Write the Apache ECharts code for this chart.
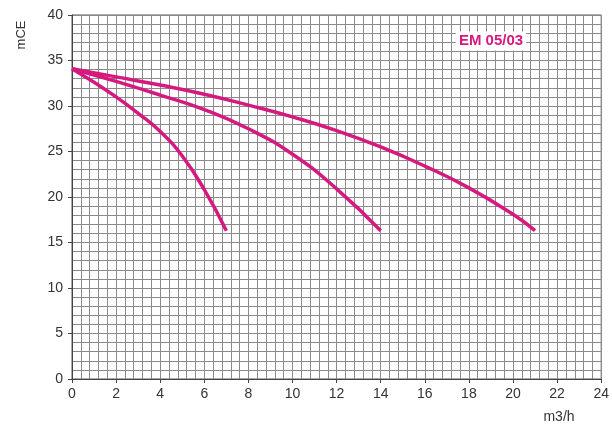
<!DOCTYPE html>
<html>
<head>
<meta charset="utf-8">
<script src="https://cdn.jsdelivr.net/npm/echarts@6/dist/echarts.min.js"></script>
<style>html,body{margin:0;padding:0;background:#fff}#c{width:612px;height:424px}</style>
</head>
<body>
<div id="c"></div>
<script>
// Data (flow m3/h, head mCE)
var curve1 = [[0,34.1],[1,32.6],[2,31.0],[3,29.2],[4,27.2],[5,24.5],[6,20.8],[7,16.3]];
var curve2 = [[0,34.1],[2,32.7],[4,31.2],[6,29.6],[8,27.5],[10,24.7],[12,20.9],[14,16.3]];
var curve3 = [[0,34.1],[2,33.2],[4,32.3],[6,31.3],[8,30.1],[10,28.8],[12,27.3],[14,25.5],[16,23.4],[18,21.0],[20,18.1],[21,16.3]];
var xTicks = {min:0, max:24, step:2, minor:0.4};
var yTicks = {min:0, max:40, step:5, minor:1};
var title = 'EM 05/03';
var xName = 'm3/h';
var yName = 'mCE';

var pink = '#d6197f';
var gridColor = '#8a8a8a';
var labelStyle = {color:'#333', fontSize:14, fontFamily:'Liberation Sans, Arial, sans-serif'};

var chart = echarts.init(document.getElementById('c'));
function mk(data){
  return {type:'line', data:data, smooth:0.5, symbol:'none', xAxisIndex:0, yAxisIndex:0,
    lineStyle:{color:pink, width:3.5}, z:5};
}
chart.setOption({
  animation:false,
  grid:{left:72, top:15, right:6, bottom:45, show:true, borderColor:'#555', borderWidth:1},
  xAxis:[
    {type:'value', min:xTicks.min, max:xTicks.max, interval:xTicks.step,
     axisLine:{show:true, onZero:false, lineStyle:{color:'#444', width:1}},
     axisTick:{show:true, length:4, lineStyle:{color:'#444'}},
     axisLabel:Object.assign({margin:8}, labelStyle),
     splitLine:{show:false}},
    {type:'value', min:xTicks.min, max:xTicks.max, interval:xTicks.minor, show:true,
     axisLine:{show:false}, axisTick:{show:false}, axisLabel:{show:false},
     splitLine:{show:true, lineStyle:{color:gridColor, width:1}}}
  ],
  yAxis:[
    {type:'value', min:yTicks.min, max:yTicks.max, interval:yTicks.step,
     axisLine:{show:true, onZero:false, lineStyle:{color:'#444', width:1}},
     axisTick:{show:true, length:4, lineStyle:{color:'#444'}},
     axisLabel:Object.assign({margin:9}, labelStyle),
     splitLine:{show:false}},
    {type:'value', min:yTicks.min, max:yTicks.max, interval:yTicks.minor, show:true,
     axisLine:{show:false}, axisTick:{show:false}, axisLabel:{show:false},
     splitLine:{show:true, lineStyle:{color:gridColor, width:1}}}
  ],
  series:[mk(curve1), mk(curve2), mk(curve3)],
  graphic:[
    {type:'text', x:491, y:41, z:10,
     style:{text:title, fill:pink, font:'bold 15px Liberation Sans, Arial, sans-serif',
            align:'center', verticalAlign:'middle', backgroundColor:'#fff', padding:[2,3]}},
    {type:'text', x:559, y:417, z:10,
     style:{text:xName, fill:'#333', font:'14px Liberation Sans, Arial, sans-serif', align:'center', verticalAlign:'middle'}},
    {type:'text', x:21, y:35, rotation:Math.PI/2, z:10,
     style:{text:yName, fill:'#333', font:'13px Liberation Sans, Arial, sans-serif', align:'center', verticalAlign:'middle'}}
  ]
});
</script>
</body>
</html>
